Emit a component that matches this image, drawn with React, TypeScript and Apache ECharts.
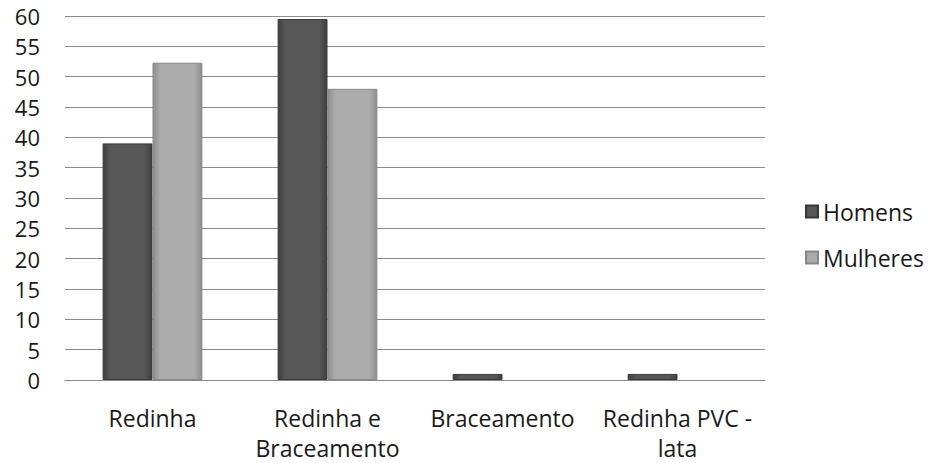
import React, { useEffect, useRef } from "react";
import * as echarts from "echarts";

const categories = ["Redinha", "Redinha e\nBraceamento", "Braceamento", "Redinha PVC -\nlata"];
const homens = [39, 59.5, 1, 1];
const mulheres = [52.3, 48, 0, 0];
const seriesNames = ["Homens", "Mulheres"];

const font = "'Open Sans', 'Noto Sans', sans-serif";

function grad(edge: string, mid: string) {
  return new echarts.graphic.LinearGradient(0, 0, 1, 0, [
    { offset: 0, color: edge },
    { offset: 0.15, color: mid },
    { offset: 0.85, color: mid },
    { offset: 1, color: edge },
  ]);
}

const hideZero = (arr: number[]) => arr.map((v) => (v === 0 ? null : v));

export default function App() {
  const ref = useRef<HTMLDivElement>(null);
  useEffect(() => {
    if (!ref.current) return;
    const chart = echarts.init(ref.current, undefined, { renderer: "svg" });
    chart.setOption({
      animation: false,
      backgroundColor: "#ffffff",
      grid: { left: 65, right: 167, top: 16, bottom: 80 },
      legend: {
        orient: "vertical",
        left: 800,
        top: 194,
        itemWidth: 12,
        itemHeight: 12,
        itemGap: 21,
        icon: "rect",
        textStyle: { fontFamily: font, fontSize: 23, lineHeight: 25, color: "#1a1a1a" },
        data: seriesNames,
      },
      xAxis: {
        type: "category",
        data: categories,
        axisLine: { lineStyle: { color: "#888", width: 1 } },
        axisTick: { show: false },
        axisLabel: {
          fontFamily: font,
          fontSize: 23,
          color: "#1a1a1a",
          margin: 23,
          lineHeight: 30,
          interval: 0,
        },
      },
      yAxis: {
        type: "value",
        min: 0,
        max: 60,
        interval: 5,
        axisLine: { show: false },
        axisTick: { show: false },
        splitLine: { lineStyle: { color: "#8c8c8c", width: 1 } },
        axisLabel: { fontFamily: font, fontSize: 22, color: "#1a1a1a", margin: 25 },
      },
      series: [
        {
          name: seriesNames[0],
          type: "bar",
          data: hideZero(homens),
          barGap: "0%",
          barCategoryGap: "43%",
          itemStyle: { color: grad("#3e3e3e", "#575757"), borderColor: "#3a3a3a", borderWidth: 1 },
        },
        {
          name: seriesNames[1],
          type: "bar",
          data: hideZero(mulheres),
          itemStyle: { color: grad("#8e8e8e", "#ababab"), borderColor: "#888", borderWidth: 1 },
        },
      ],
    });
    return () => chart.dispose();
  }, []);
  return (
    <div
      ref={ref}
      style={{ position: "absolute", left: 0, top: 0, width: 932, height: 463, overflow: "hidden" }}
    />
  );
}
